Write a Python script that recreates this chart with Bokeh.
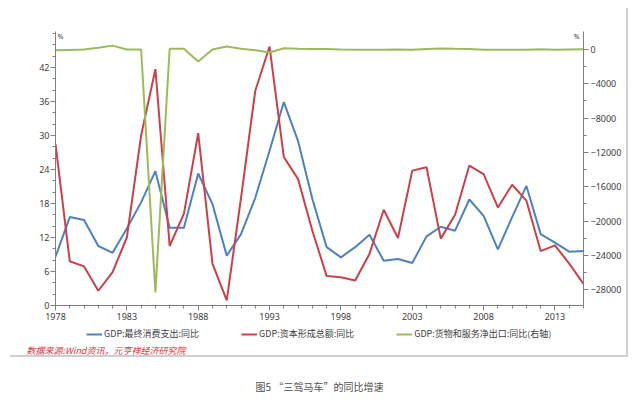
from bokeh.plotting import figure
from bokeh.layouts import column
from bokeh.models import Range1d, LinearAxis, FixedTicker, Label, Legend, LegendItem
from bokeh.embed import file_html
from bokeh.resources import INLINE

years = list(range(1978, 2016))
consumption = [8.6, 15.6, 15.1, 10.5, 9.3, 13.6, 18.2, 23.7, 13.7, 13.7,
               23.3, 17.9, 8.8, 12.6, 19.0, 27.3, 35.9, 29.0, 18.8, 10.3,
               8.5, 10.3, 12.5, 7.9, 8.2, 7.5, 12.2, 13.9, 13.2, 18.7,
               15.8, 9.9, 15.6, 21.1, 12.6, 11.1, 9.5, 9.6]
capital = [28.5, 7.8, 6.9, 2.6, 5.9, 12.0, 30.0, 41.7, 10.5, 16.2,
           30.4, 7.4, 0.9, 19.0, 37.9, 45.7, 26.2, 22.3, 13.2, 5.2,
           5.0, 4.4, 9.1, 16.9, 11.9, 23.8, 24.4, 11.8, 16.0, 24.7,
           23.2, 17.3, 21.3, 18.5, 9.6, 10.6, 7.4, 3.8]
net_exports = [-100, -50, 0, 200, 450, 0, 0, -28300, 80, 80,
               -1400, 0, 350, 100, -100, -350, 150, 80, 60, 60,
               0, -20, -20, -20, 0, -30, 50, 120, 80, 60,
               -20, -40, -20, -20, 30, -30, 0, 20]

left_ticks = [0, 6, 12, 18, 24, 30, 36, 42]
right_ticks = [0, -4000, -8000, -12000, -16000, -20000, -24000, -28000]
year_ticks = [1978, 1983, 1988, 1993, 1998, 2003, 2008, 2013]

series_names = ["GDP:最终消费支出:同比", "GDP:资本形成总额:同比", "GDP:货物和服务净出口:同比(右轴)"]
series_colors = ["#4f81bd", "#c8414b", "#9bbb59"]
source_text = "数据来源:Wind资讯，元亨祥经济研究院"
caption_text = "图5 “三驾马车”的同比增速"
unit_text = "%"

CJK = "Noto Sans CJK SC"
NUM = "Noto Sans"

frame_css = {
    "background-image": "linear-gradient(#cfcfcf, #cfcfcf), linear-gradient(#cfcfcf, #cfcfcf)",
    "background-size": "2px 348px, 618px 2px",
    "background-position": "626px 8px, 10px 355px",
    "background-repeat": "no-repeat",
}

# ---- main chart ----
p = figure(width=640, height=325, output_backend="svg", toolbar_location=None,
           x_range=Range1d(1978, 2015), y_range=Range1d(0, 48.35),
           min_border_left=55, min_border_right=57, min_border_top=31, min_border_bottom=20)
p.extra_y_ranges = {"right": Range1d(-29830, 2097)}
p.grid.visible = False
p.outline_line_color = None
p.background_fill_color = "white"
p.border_fill_alpha = 0

r1 = p.line(years, consumption, line_color=series_colors[0], line_width=2)
r2 = p.line(years, capital, line_color=series_colors[1], line_width=2)
r3 = p.line(years, net_exports, line_color=series_colors[2], line_width=2, y_range_name="right")

right_axis = LinearAxis(y_range_name="right")
p.add_layout(right_axis, "right")

def style_axis(ax):
    ax.axis_line_color = "#808080"
    ax.major_tick_line_color = "#808080"
    ax.minor_tick_line_color = "#808080"
    ax.major_tick_out = 5
    ax.major_tick_in = 0
    ax.minor_tick_out = 3
    ax.minor_tick_in = 0
    ax.major_label_text_font = NUM
    ax.major_label_text_font_size = "9px"
    ax.major_label_text_color = "#404040"

xax = p.xaxis[0]
yax = p.yaxis[0]
for ax in (xax, yax, right_axis):
    style_axis(ax)

xax.ticker = FixedTicker(ticks=year_ticks, minor_ticks=years)
xax.major_label_standoff = 2
yax.ticker = FixedTicker(ticks=left_ticks, minor_ticks=list(range(0, 49, 2)))
yax.major_label_standoff = 1
right_axis.ticker = FixedTicker(ticks=right_ticks, minor_ticks=list(range(-28000, 1, 2000)))
right_axis.major_label_standoff = 2

p.add_layout(Label(x=1978, x_offset=2, y=48.3, text=unit_text,
                   text_font=NUM, text_font_size="7px", text_color="#404040",
                   text_baseline="top"))
p.add_layout(Label(x=2015, x_offset=-4, y=48.3, text=unit_text,
                   text_font=NUM, text_font_size="7px", text_color="#404040",
                   text_baseline="top", text_align="right"))

# ---- footer: legend, source and caption ----
q = figure(width=640, height=75, output_backend="svg", toolbar_location=None,
           x_range=Range1d(0, 640), y_range=Range1d(75, 0),
           x_axis_location=None, y_axis_location=None,
           min_border_left=0, min_border_right=0, min_border_top=0, min_border_bottom=0)
if "frame_align" in q.properties():
    q.frame_align = False
    p.frame_align = False
q.grid.visible = False
q.outline_line_color = None
q.background_fill_alpha = 0
q.border_fill_alpha = 0

# legend keys: same series drawn in the footer, whose ranges keep them out of view
k1 = q.line(years, consumption, line_color=series_colors[0], line_width=2)
k2 = q.line(years, capital, line_color=series_colors[1], line_width=2)
k3 = q.line(years, net_exports, line_color=series_colors[2], line_width=2)

legend = Legend(items=[LegendItem(label=series_names[0], renderers=[k1]),
                       LegendItem(label=series_names[1], renderers=[k2]),
                       LegendItem(label=series_names[2], renderers=[k3])],
                orientation="horizontal", location=(86, 60),
                spacing=42, label_standoff=2, glyph_width=16, glyph_height=10,
                label_height=10, label_text_font=CJK, label_text_font_size="9px",
                label_text_color="#404040", border_line_color=None,
                background_fill_alpha=0, padding=0, margin=0)
q.add_layout(legend, "center")

q.add_layout(Label(x=26, y=25, text=source_text,
                   text_font=CJK, text_font_size="9px", text_font_style="italic",
                   text_color="#e0303a", text_baseline="middle"))
q.add_layout(Label(x=319, y=61, text=caption_text,
                   text_font=CJK, text_font_size="10px", text_color="#505050",
                   text_align="center", text_baseline="middle"))

layout = column(p, q, spacing=0, styles=frame_css)

open("out.html", "w").write(file_html(layout, INLINE))
